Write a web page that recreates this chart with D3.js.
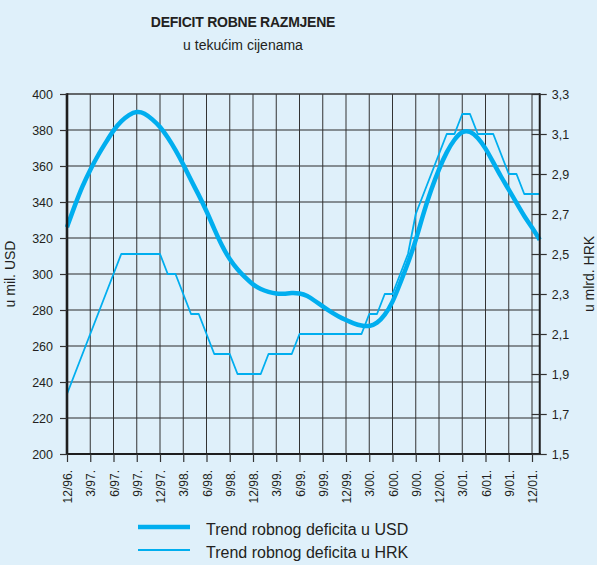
<!DOCTYPE html>
<html>
<head>
<meta charset="utf-8">
<script src="https://cdn.jsdelivr.net/npm/d3@7"></script>
<style>
  html, body { margin: 0; padding: 0; background: #dff0fa; }
  svg { display: block; }
  text { font-family: "Liberation Sans", Arial, Helvetica, sans-serif; fill: #231f20; }
</style>
</head>
<body>
<script>
// Monthly trend of the goods trade deficit, 12/1996 – 1/2002
const usdTrend = [
  326, 338, 349, 358, 366, 373, 380, 385, 388.5, 390.5, 389.5, 386,
  382, 376, 369, 361, 352, 344, 335, 325, 315.5, 308, 302.5, 298,
  294, 291.5, 290, 289, 289, 289.5, 289.3, 288, 285, 282, 279, 276.5,
  274.4, 272.5, 271.2, 270.8, 272.5, 277, 284, 295, 306, 318.5, 334, 347,
  358.5, 368, 375, 379.5, 379.5, 376, 370, 362, 354, 347, 339.5, 332,
  326, 319
];
const hrkTrend = [
  1.8, 1.9, 2.0, 2.1, 2.2, 2.3, 2.4, 2.5, 2.5, 2.5, 2.5, 2.5,
  2.5, 2.4, 2.4, 2.3, 2.2, 2.2, 2.1, 2.0, 2.0, 2.0, 1.9, 1.9,
  1.9, 1.9, 2.0, 2.0, 2.0, 2.0, 2.1, 2.1, 2.1, 2.1, 2.1, 2.1,
  2.1, 2.1, 2.1, 2.2, 2.2, 2.3, 2.3, 2.4, 2.5, 2.7, 2.8, 2.9,
  3.0, 3.1, 3.1, 3.2, 3.2, 3.1, 3.1, 3.1, 3.0, 2.9, 2.9, 2.8,
  2.8, 2.8
];
const quarterLabels = [
  "12/96.", "3/97.", "6/97.", "9/97.", "12/97.", "3/98.", "6/98.", "9/98.",
  "12/98.", "3/99.", "6/99.", "9/99.", "12/99.", "3/00.", "6/00.", "9/00.",
  "12/00.", "3/01.", "6/01.", "9/01.", "12/01."
];
const leftTicks = [200, 220, 240, 260, 280, 300, 320, 340, 360, 380, 400];
const rightTicks = [1.5, 1.7, 1.9, 2.1, 2.3, 2.5, 2.7, 2.9, 3.1, 3.3];
const seriesNames = ["Trend robnog deficita u USD", "Trend robnog deficita u HRK"];

const W = 597, H = 565;
const plotL = 67, plotR = 539.75, plotT = 94, plotB = 454;
const blue = "#00aeef";

const svg = d3.select("body").append("svg").attr("width", W).attr("height", H);
svg.append("rect").attr("width", W).attr("height", H).attr("fill", "#dff0fa");

const x = d3.scaleLinear().domain([0, usdTrend.length - 1]).range([plotL, plotR]);
const yL = d3.scaleLinear().domain([200, 400]).range([plotB, plotT]);
const yR = d3.scaleLinear().domain([1.5, 3.3]).range([plotB, plotT]);
const quarterIdx = quarterLabels.map((_, i) => i * 3);

// Titles
svg.append("text").attr("x", 243).attr("y", 27).attr("text-anchor", "middle")
  .style("font-size", "14px").style("font-weight", "bold").style("letter-spacing", "-0.25px")
  .text("DEFICIT ROBNE RAZMJENE");
svg.append("text").attr("x", 243).attr("y", 49.5).attr("text-anchor", "middle")
  .style("font-size", "14px").text("u tekućim cijenama");

// Grid
const grid = svg.append("g");
grid.selectAll("line.h").data(leftTicks.slice(1, -1)).join("line")
  .attr("x1", plotL).attr("x2", plotR)
  .attr("y1", d => yL(d)).attr("y2", d => yL(d))
  .attr("stroke", "#2a2a2a").attr("stroke-width", 1);
grid.selectAll("line.v").data(quarterIdx.slice(1)).join("line")
  .attr("x1", d => x(d)).attr("x2", d => x(d))
  .attr("y1", plotT).attr("y2", plotB)
  .attr("stroke", "#333").attr("stroke-width", 1);

// Series
svg.append("path").datum(hrkTrend)
  .attr("fill", "none").attr("stroke", blue).attr("stroke-width", 1.8)
  .attr("stroke-linejoin", "round")
  .attr("d", d3.line().x((d, i) => x(i)).y(d => yR(d)));
svg.append("path").datum(usdTrend)
  .attr("fill", "none").attr("stroke", blue).attr("stroke-width", 4.5)
  .attr("d", d3.line().x((d, i) => x(i)).y(d => yL(d)).curve(d3.curveBasis));

// Frame
svg.append("line").attr("x1", plotL).attr("x2", plotR).attr("y1", plotT).attr("y2", plotT)
  .attr("stroke", "#3a3a3a").attr("stroke-width", 1.6);
svg.append("line").attr("x1", plotL).attr("x2", plotR + 1).attr("y1", plotB).attr("y2", plotB)
  .attr("stroke", "#1e1e1e").attr("stroke-width", 2.2);
svg.append("line").attr("x1", plotL).attr("x2", plotL).attr("y1", plotT - 0.8).attr("y2", plotB + 1)
  .attr("stroke", "#1e1e1e").attr("stroke-width", 2.6);
svg.append("line").attr("x1", plotR).attr("x2", plotR).attr("y1", plotT - 0.8).attr("y2", plotB + 1)
  .attr("stroke", "#1e1e1e").attr("stroke-width", 2);

// Left axis
const axL = svg.append("g").attr("transform", `translate(${plotL},0)`)
  .call(d3.axisLeft(yL).tickValues(leftTicks).tickSize(7).tickPadding(7));
axL.select(".domain").remove();
axL.selectAll(".tick line").attr("stroke", "#333").attr("stroke-width", 1.2);
axL.selectAll(".tick text").style("font-size", "12.5px").attr("fill", "#231f20");

// Right axis (ticks cross the frame)
const axR = svg.append("g").attr("transform", `translate(${plotR},0)`)
  .call(d3.axisRight(yR).tickValues(rightTicks).tickSize(7).tickPadding(5)
    .tickFormat(d => d3.format(".1f")(d).replace(".", ",")));
axR.select(".domain").remove();
axR.selectAll(".tick").append("line").attr("x1", -8).attr("x2", 0)
  .attr("stroke", "#333").attr("stroke-width", 1.2);
axR.selectAll(".tick line").attr("stroke", "#333").attr("stroke-width", 1.2);
axR.selectAll(".tick text").style("font-size", "12.5px").attr("fill", "#231f20");

// Bottom axis with rotated period labels
const axB = svg.append("g").attr("transform", `translate(0,${plotB})`)
  .call(d3.axisBottom(x).tickValues(quarterIdx).tickSize(8)
    .tickFormat((d, i) => quarterLabels[i]));
axB.select(".domain").remove();
axB.selectAll(".tick line").attr("stroke", "#333").attr("stroke-width", 1.2);
axB.selectAll(".tick text")
  .attr("transform", "rotate(-90)")
  .attr("x", -16).attr("y", 0).attr("dy", "0.38em")
  .style("text-anchor", "end").style("font-size", "12px").attr("fill", "#231f20");

// Axis titles
svg.append("text").attr("transform", `translate(15,${(plotT + plotB) / 2}) rotate(-90)`)
  .attr("text-anchor", "middle").style("font-size", "14px").text("u mil. USD");
svg.append("text").attr("transform", `translate(594,${(plotT + plotB) / 2}) rotate(-90)`)
  .attr("text-anchor", "middle").style("font-size", "14px").text("u mlrd. HRK");

// Legend
const legend = svg.append("g");
const legendRows = [
  { name: seriesNames[0], width: 4.5, y: 527 },
  { name: seriesNames[1], width: 1.8, y: 550 }
];
legendRows.forEach(r => {
  legend.append("line").attr("x1", 138).attr("x2", 190).attr("y1", r.y).attr("y2", r.y)
    .attr("stroke", blue).attr("stroke-width", r.width);
  legend.append("text").attr("x", 206).attr("y", r.y + 8)
    .style("font-size", "16px").text(r.name);
});
</script>
</body>
</html>
